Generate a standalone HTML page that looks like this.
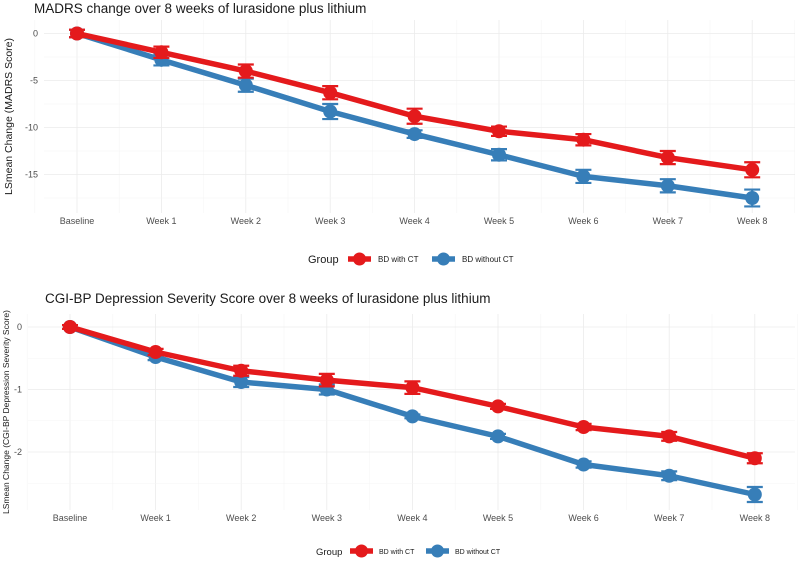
<!DOCTYPE html>
<html><head><meta charset="utf-8"><style>
body{margin:0;background:#fff;font-family:"Liberation Sans",sans-serif}
svg text{font-family:"Liberation Sans",sans-serif}
</style></head><body>
<svg id="s" width="798" height="561" xmlns="http://www.w3.org/2000/svg"></svg>
<script>
const categories=["Baseline","Week 1","Week 2","Week 3","Week 4","Week 5","Week 6","Week 7","Week 8"];
const madrsWithCT=[0,-2,-4,-6.3,-8.8,-10.4,-11.3,-13.2,-14.5];
const madrsWithCTErr=[0.4,0.6,0.7,0.7,0.8,0.5,0.6,0.7,0.8];
const madrsWithoutCT=[0,-2.8,-5.5,-8.3,-10.7,-12.9,-15.2,-16.2,-17.5];
const madrsWithoutCTErr=[0.4,0.6,0.7,0.8,0.4,0.6,0.7,0.7,0.9];
const madrsTicks=[0,-5,-10,-15];
const cgiWithCT=[0,-0.4,-0.7,-0.85,-0.97,-1.27,-1.6,-1.75,-2.1];
const cgiWithCTErr=[0.03,0.05,0.08,0.1,0.1,0.04,0.05,0.07,0.08];
const cgiWithoutCT=[0,-0.48,-0.88,-1.0,-1.43,-1.75,-2.2,-2.38,-2.68];
const cgiWithoutCTErr=[0.03,0.05,0.08,0.08,0.03,0.04,0.05,0.07,0.12];
const cgiTicks=[0,-1,-2];
const NS="http://www.w3.org/2000/svg";
const svg=document.getElementById('s');
function el(t,a,p){const e=document.createElementNS(NS,t);for(const k in a)e.setAttribute(k,a[k]);(p||svg).appendChild(e);return e;}
function panel(o){
  const g=el('g',{});
  
  
  const x=i=>o.x0+i*o.dx;
  const y=v=>o.y0-v*o.py;
  for(let i=-0.5;i<categories.length;i+=0.5){
    el('line',{x1:x(i),x2:x(i),y1:o.top,y2:o.bot,stroke:i%1===0?'#ebebeb':'#f4f4f4','stroke-width':i%1===0?0.8:0.5},g);
  }
  for(let v=o.gmax;v>=o.gmin;v-=o.step/2){
    const major=o.ticks.includes(v);
    el('line',{x1:o.left,x2:o.right,y1:y(v),y2:y(v),stroke:major?'#ebebeb':'#f4f4f4','stroke-width':major?0.8:0.5},g);
  }
  o.ticks.forEach(v=>{const t=el('text',{x:o.left-6,y:y(v)+3,'text-anchor':'end','font-size':9,fill:'#4d4d4d'},g);t.textContent=v;
    });
  categories.forEach((c,i)=>{const t=el('text',{x:x(i),y:o.bot+11,'text-anchor':'middle','font-size':9,fill:'#4d4d4d'},g);t.textContent=c;
    });
  const series=[[o.blue,o.blueErr,'#377eb8','without-ct'],[o.red,o.redErr,'#e41a1c','with-ct']];
  series.forEach(([vals,errs,col,nm])=>{
    const line=el('polyline',{points:vals.map((v,i)=>x(i)+','+y(v)).join(' '),fill:'none',stroke:col,'stroke-width':5.5,'stroke-linejoin':'round'},g);
    
    vals.forEach((v,i)=>{
      const e=errs[i];
      el('path',{d:`M${x(i)-8},${y(v+e)}H${x(i)+8}M${x(i)},${y(v+e)}V${y(v-e)}M${x(i)-8},${y(v-e)}H${x(i)+8}`,stroke:col,'stroke-width':2.2,fill:'none'},g);
      const c=el('circle',{cx:x(i),cy:y(v),r:7,fill:col},g);
      
    });
  });
  const tt=el('text',{x:o.titleX,y:o.titleY,'font-size':o.titleSize,fill:'#1a1a1a'},g);tt.textContent=o.title;
  
  const yt=el('text',{transform:`translate(${o.ytX},${(o.top+o.bot)/2}) rotate(-90)`,'text-anchor':'middle','font-size':o.ytSize,fill:'#1a1a1a'},g);yt.textContent=o.ytitle;
  
  const L=o.leg;
  const lg=el('g',{},g);
  const gt=el('text',{x:L.x,y:L.y+4,'font-size':L.gfs,fill:'#1a1a1a'},lg);gt.textContent='Group';
  [[L.x1,'#e41a1c','BD with CT'],[L.x2,'#377eb8','BD without CT']].forEach(([lx,col,lab])=>{
    el('line',{x1:lx,x2:lx+23,y1:L.y,y2:L.y,stroke:col,'stroke-width':5.5},lg);
    el('circle',{cx:lx+11.5,cy:L.y,r:6.5,fill:col},lg);
    const t=el('text',{x:lx+L.toff,y:L.y+3,'font-size':L.fs,fill:'#1a1a1a'},lg);t.textContent=lab;
    
  });
}
panel({name:'madrs-chart',x0:77,dx:84.4,y0:33.5,py:9.4,top:20,bot:213,left:44,right:795,ticks:madrsTicks,step:5,gmax:0,gmin:-17.5,
  red:madrsWithCT,redErr:madrsWithCTErr,blue:madrsWithoutCT,blueErr:madrsWithoutCTErr,
  title:'MADRS change over 8 weeks of lurasidone plus lithium',titleX:34,titleY:13,titleSize:13.5,
  ytitle:'LSmean Change (MADRS Score)',ytX:12,ytSize:10.5,leg:{x:308,y:259,x1:348,x2:432,fs:8,gfs:11,toff:30}});
panel({name:'cgi-chart',x0:70,dx:85.6,y0:327,py:62.5,top:314,bot:510,left:28,right:795,ticks:cgiTicks,step:1,gmax:0,gmin:-2.5,
  red:cgiWithCT,redErr:cgiWithCTErr,blue:cgiWithoutCT,blueErr:cgiWithoutCTErr,
  title:'CGI-BP Depression Severity Score over 8 weeks of lurasidone plus lithium',titleX:45,titleY:303,titleSize:13.5,
  ytitle:'LSmean Change (CGI-BP Depression Severity Score)',ytX:9,ytSize:8.5,leg:{x:316,y:551,x1:350,x2:426,fs:7,gfs:9.5,toff:29}});
</script>
</body></html>
